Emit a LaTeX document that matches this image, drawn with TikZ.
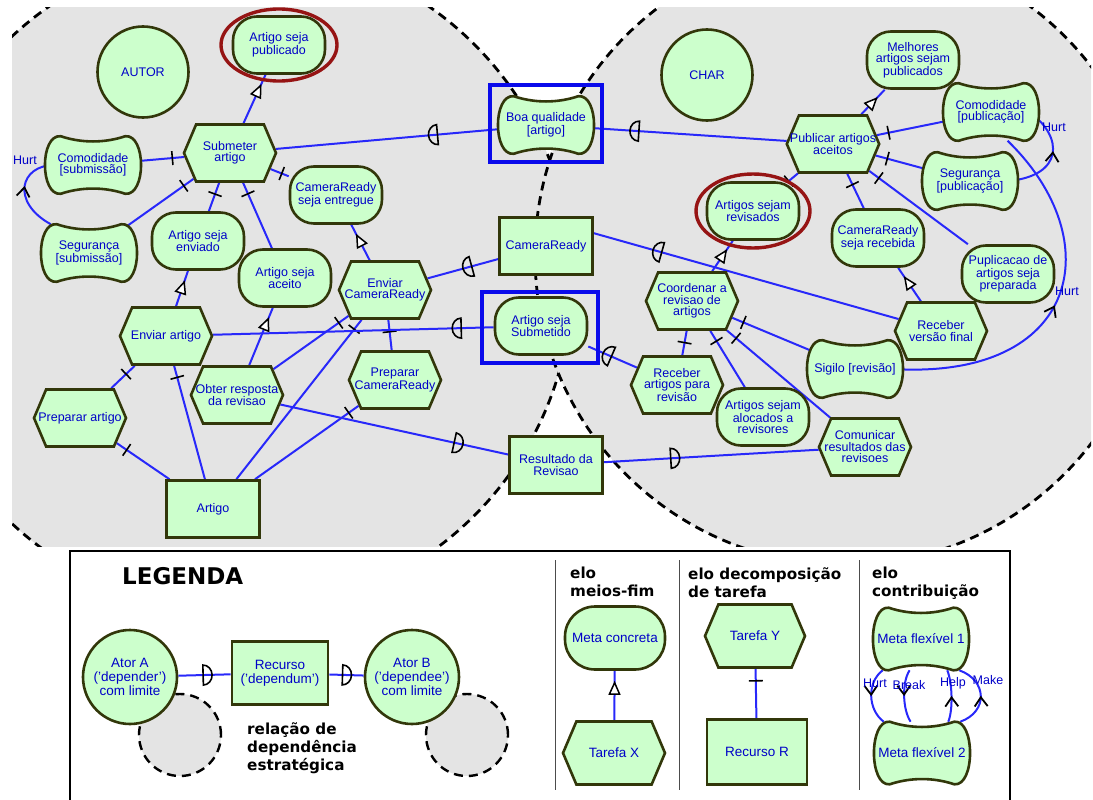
\documentclass[tikz,border=0pt]{standalone}
\usepackage{fontspec}
\setmainfont{Liberation Sans}
\newfontfamily\legendfont{DejaVu Sans}
\usetikzlibrary{shapes.symbols, shapes.geometric, calc, decorations.markings, arrows.meta}

\definecolor{istarFill}{RGB}{204,255,204}
\definecolor{istarLine}{RGB}{50,55,10}
\definecolor{istarText}{RGB}{0,0,200}
\definecolor{linkBlue}{RGB}{40,40,250}
\definecolor{boundGrey}{RGB}{228,228,228}
\definecolor{goalRed}{RGB}{150,20,20}
\definecolor{markBlue}{RGB}{10,10,235}

\newcommand{\nodefont}{\fontsize{12.5}{11.5}\selectfont}
\newcommand{\legfont}{\fontsize{13.5}{14}\selectfont}
% softgoal outline around a named node
\newcommand{\softshape}[1]{%
  \filldraw[draw=istarLine, fill=istarFill, line width=2.6pt] ($(#1.north west)+(6,0)$)
    .. controls ($(#1.north west)!0.35!(#1.north east)+(0,7)$) and ($(#1.north west)!0.65!(#1.north east)+(0,7)$) .. ($(#1.north east)+(-6,0)$)
    .. controls ($(#1.north east)+(15,-2)$) and ($(#1.south east)+(15,2)$) .. ($(#1.south east)+(-6,0)$)
    .. controls ($(#1.south west)!0.65!(#1.south east)+(0,-7)$) and ($(#1.south west)!0.35!(#1.south east)+(0,-7)$) .. ($(#1.south west)+(6,0)$)
    .. controls ($(#1.south west)+(-15,2)$) and ($(#1.north west)+(-15,-2)$) .. cycle;}

\pgfdeclarelayer{bg}
\pgfdeclarelayer{edges}
\pgfdeclarelayer{soft}
\pgfsetlayers{bg,edges,soft,main}

\begin{document}
\begin{tikzpicture}[x=1pt, y=-1pt,
  element/.style={draw=istarLine, fill=istarFill, line width=2.6pt, text=istarText, font=\nodefont, align=center, inner sep=1pt},
  actor/.style={element, circle, minimum size=91pt, inner sep=0pt},
  goal/.style={element, rectangle, rounded corners=24pt, minimum width=92pt, minimum height=57pt},
  task/.style={element, signal, signal to=west and east, signal pointer angle=134, minimum width=92pt, minimum height=57pt, inner xsep=-9pt},
  resource/.style={element, rectangle, minimum width=93pt, minimum height=57pt},
  softgoal/.style={element, draw=none, fill=none, minimum width=74pt, minimum height=55pt, inner xsep=-7pt},
  big/.style={font=\legfont, minimum width=100pt, minimum height=63pt},
  link/.style={draw=linkBlue, line width=2pt},
  decomp/.style={link, postaction={decorate}, decoration={markings, mark=at position 12pt with {\draw[black, line width=1.6pt] (0pt,-7pt) -- (0pt,7pt);}}},
  meansend/.style={link, postaction={decorate}, decoration={markings, mark=at position -10pt with {\arrow{Triangle[length=14pt, width=12pt, line width=1.5pt, color=black, fill=white]}}}},
  dep/.style={link, postaction={decorate}, decoration={markings, mark=at position #1 with {\draw[black, line width=1.6pt] (-4pt,-10pt) -- (-4pt,10pt) arc[start angle=90, end angle=-90, x radius=9pt, y radius=10pt] -- cycle;}}},
  contrib/.style={link, postaction={decorate}, decoration={markings, mark=at position #1 with {\arrow{Straight Barb[length=9pt, width=13pt, line width=1.8pt, color=black]}}}},
  clabel/.style={text=istarText, font=\nodefont, inner sep=0pt},
  boundary/.style={draw=black, line width=2.8pt, dash pattern=on 9pt off 6pt},
  highlight/.style={draw=markBlue, line width=3.2pt},
  goalmark/.style={draw=goalRed, line width=3.4pt},
  heading/.style={font=\legendfont\bfseries\fontsize{15.2}{18}\selectfont, align=left, anchor=north west, inner sep=0pt}
]
\useasboundingbox (0,0) rectangle (1093,800);

% Actor boundaries and legend frame
\begin{pgfonlayer}{bg}
  \begin{scope}
    \clip (12,8) rectangle (1091,546);
    \fill[boundGrey] (239,280) circle[radius=333pt];
    \draw[boundary] (239,280) circle[radius=333pt];
    \fill[boundGrey] (845,255) circle[radius=310pt];
    \draw[boundary] (845,255) circle[radius=310pt];
  \end{scope}
  \draw[line width=1.8pt] (70,800) -- (70,551) -- (1010,551) -- (1010,800);
  \foreach \sx in {555,679,859}
    \draw[line width=1pt, black!70] (\sx,560) -- (\sx,790);
  \filldraw[boundary, fill=boundGrey, line width=2.4pt] (180,735) circle[radius=41pt];
  \filldraw[boundary, fill=boundGrey, line width=2.4pt] (467,735) circle[radius=41pt];
\end{pgfonlayer}

% AUTOR
\node[actor] (autor) at (143,72) {AUTOR};
\node[goal] (artPub) at (279,45) {Artigo seja\\publicado};
\node[task] (submeter) at (230,153) {Submeter\\artigo};
\node[softgoal] (comSub) at (93,165) {Comodidade\\{[}submissão{]}};
\node[softgoal] (segSub) at (89,253) {Segurança\\{[}submissão{]}};
\node[goal] (artEnv) at (198,241) {Artigo seja\\enviado};
\node[goal] (crEnt) at (336,195) {CameraReady\\seja entregue};
\node[goal] (artAce) at (285,278) {Artigo seja\\aceito};
\node[task] (envCR) at (385,290) {Enviar\\CameraReady};
\node[task] (envArt) at (166,336) {Enviar artigo};
\node[task] (obter) at (237,395) {Obter resposta\\da revisao};
\node[task] (prepArt) at (80,418) {Preparar artigo};
\node[resource] (artigo) at (213,509) {Artigo};
\node[task] (prepCR) at (395,380) {Preparar\\CameraReady};

% Dependums
\node[softgoal] (boaQ) at (546,125) {Boa qualidade\\{[}artigo{]}};
\node[resource] (camReady) at (546,246) {CameraReady};
\node[goal] (artSubm) at (541,326) {Artigo seja\\Submetido};
\node[resource] (resRev) at (556,465) {Resultado da\\Revisao};

% CHAR
\node[actor] (chair) at (707,75) {CHAR};
\node[goal] (melhores) at (913,60) {Melhores\\artigos sejam\\publicados};
\node[softgoal] (comPub) at (991,112) {Comodidade\\{[}publicação{]}};
\node[task] (publicar) at (833,144) {Publicar artigos\\aceitos};
\node[softgoal] (segPub) at (970,181) {Segurança\\{[}publicação{]}};
\node[goal] (artRev) at (753,211) {Artigos sejam\\revisados};
\node[goal] (crRec) at (878,238) {CameraReady\\seja recebida};
\node[goal] (pubPrep) at (1008,274) {Puplicacao de\\artigos seja\\preparada};
\node[task] (coord) at (692,301) {Coordenar a\\revisao de\\artigos};
\node[task] (recVers) at (941,331) {Receber\\versão final};
\node[softgoal] (sigilo) at (855,369) {Sigilo {[}revisão{]}};
\node[task] (recArt) at (677,385) {Receber\\artigos para\\revisão};
\node[goal] (alocados) at (763,417) {Artigos sejam\\alocados a\\revisores};
\node[task] (comunicar) at (865,447) {Comunicar\\resultados das\\revisoes};

% Legend
\node[heading, font=\legendfont\bfseries\fontsize{23}{26}\selectfont] (legTitle) at (122,567) {LEGENDA};
\node[heading] (hMeios) at (570,567) {elo\\meios-fim};
\node[heading] (hDecomp) at (688,567) {elo decomposição\\de tarefa};
\node[heading] (hContrib) at (872,567) {elo\\contribuição};
\node[heading] (hDep) at (247,722) {relação de\\dependência\\estratégica};
\node[actor, font=\legfont, minimum size=94pt] (atorA) at (130,677) {Ator A\\('depender')\\com limite};
\node[resource, big, minimum width=96pt] (recurso) at (280,673) {Recurso\\('dependum')};
\node[actor, font=\legfont, minimum size=94pt] (atorB) at (412,677) {Ator B\\('dependee')\\com limite};
\node[goal, big, rounded corners=30pt] (metaC) at (615,638) {Meta concreta};
\node[task, big, minimum width=102pt] (tarefaX) at (614,753) {Tarefa X};
\node[task, big] (tarefaY) at (755,636) {Tarefa Y};
\node[resource, big, minimum height=65pt] (recursoR) at (757,752) {Recurso R};
\node[softgoal, font=\legfont, minimum height=60pt] (mf1) at (921,639) {Meta flexível 1};
\node[softgoal, font=\legfont, minimum height=60pt] (mf2) at (922,753) {Meta flexível 2};

% Contribution labels
\node[clabel] (hurtL) at (25,160) {Hurt};
\node[clabel] (hurtR1) at (1054,127) {Hurt};
\node[clabel] (hurtR2) at (1067,291) {Hurt};
\node[clabel] (hurtLeg) at (875,683) {Hurt};
\node[clabel] (breakLeg) at (909,685) {Break};
\node[clabel] (helpLeg) at (953,683) {Help};
\node[clabel] (makeLeg) at (988,680) {Make};

\begin{pgfonlayer}{soft}
  \foreach \sg in {comSub, segSub, boaQ, comPub, segPub, sigilo, mf1, mf2}
    {\softshape{\sg}}
\end{pgfonlayer}

\begin{pgfonlayer}{edges}
  % means-end
  \draw[meansend] (submeter) -- (artPub);
  \draw[meansend] (envArt) -- (artEnv);
  \draw[meansend] (obter) -- (artAce);
  \draw[meansend] (envCR) -- (crEnt);
  \draw[meansend] (publicar) -- (melhores);
  \draw[meansend] (coord) -- (artRev);
  \draw[meansend] (recVers) -- (crRec);
  \draw[meansend] (tarefaX) -- (metaC);
  % decompositions
  \foreach \a/\b in {submeter/comSub, submeter/segSub, submeter/artEnv, submeter/artAce, submeter/crEnt,
      envArt/prepArt, envArt/artigo, prepArt/artigo, envCR/obter, envCR/artigo, envCR/prepCR, prepCR/artigo,
      publicar/comPub, publicar/segPub, publicar/pubPrep, publicar/crRec, publicar/artRev,
      coord/recArt, coord/alocados, coord/sigilo, coord/comunicar, tarefaY/recursoR}
    \draw[decomp] (\a) -- (\b);
  % dependencies
  \draw[dep=0.75] (publicar) -- (boaQ);
  \draw[dep=0.32] (boaQ) -- (submeter);
  \draw[dep=0.6] (recArt) -- (artSubm);
  \draw[dep=0.13] (artSubm) -- (envArt);
  \draw[dep=0.79] (recVers) -- (camReady.15);
  \draw[dep=0.43] (camReady) -- (envCR);
  \draw[dep=0.78] (obter) -- (resRev);
  \draw[dep=0.33] (resRev) -- (comunicar);
  \draw[dep=0.55] (atorA) -- (recurso);
  \draw[dep=0.5] (recurso) -- (atorB);
  % contributions
  \draw[contrib=0.55] (segSub.north west) .. controls +(-40,-22) and +(-35,0) .. (comSub.west);
  \draw[contrib=0.55] (segPub.east) .. controls +(55,-5) and +(35,25) .. (comPub.east);
  \draw[contrib=0.5] (sigilo.east) .. controls +(186,11) and +(103,100) .. (comPub.-60);
  \draw[contrib=0.5] (mf1.south west) .. controls +(-16,12) and +(-16,-12) .. (mf2.north west);
  \draw[contrib=0.5] (mf1.250) .. controls +(-8,12) and +(-8,-12) .. (mf2.110);
  \draw[contrib=0.5] (mf2.50) .. controls +(5,-12) and +(5,12) .. (mf1.-50);
  \draw[contrib=0.5] (mf2.north east) .. controls +(28,-10) and +(28,10) .. (mf1.south east);
\end{pgfonlayer}

% Marks on goals
\draw[highlight] ($(boaQ)+(-56,-40)$) rectangle ($(boaQ)+(56,37)$);
\draw[highlight] ($(artSubm)+(-59,-34)$) rectangle ($(artSubm)+(57,37)$);
\draw[goalmark] (artPub) ellipse[x radius=58pt, y radius=36pt];
\draw[goalmark] (artRev) ellipse[x radius=57pt, y radius=37pt];
\end{tikzpicture}
\end{document}
